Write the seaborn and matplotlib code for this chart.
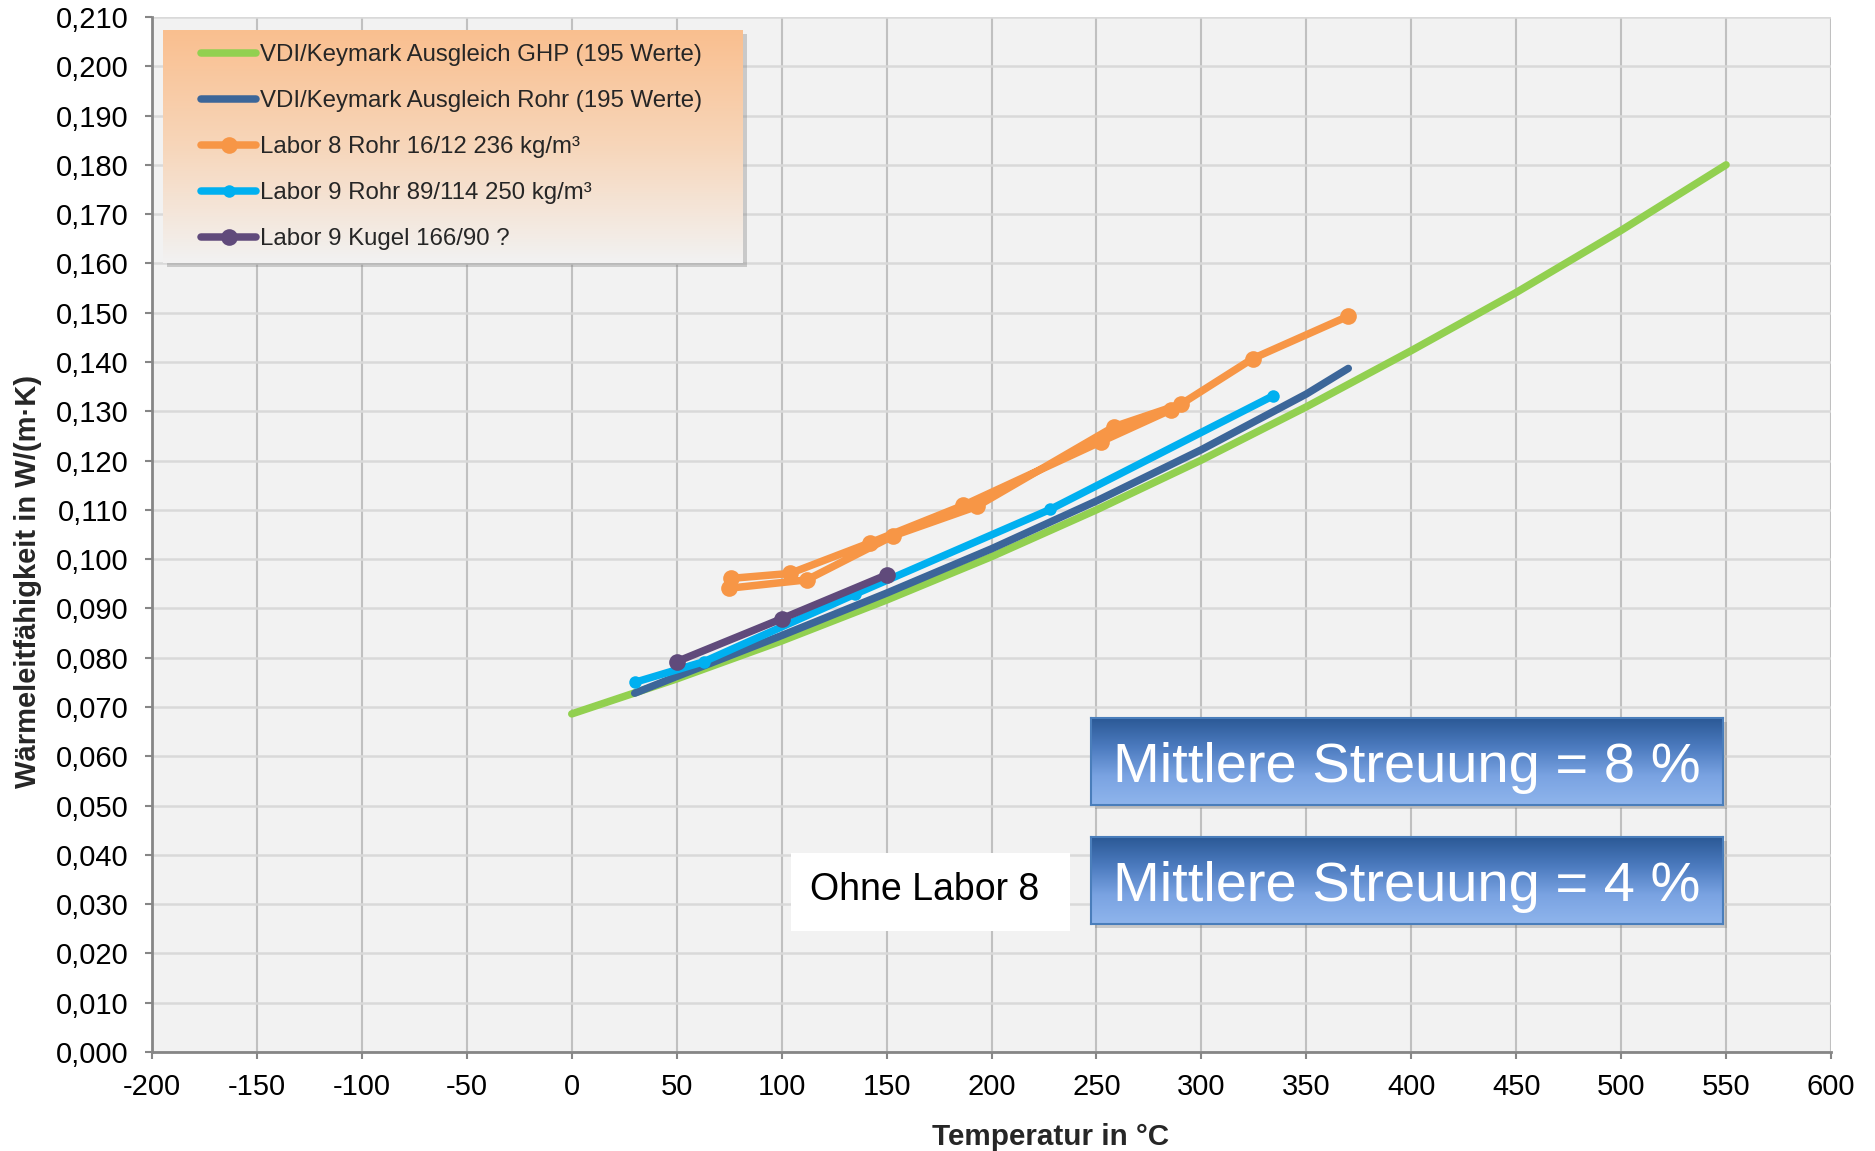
import numpy as np
import pandas as pd
import matplotlib
matplotlib.use("Agg")
import matplotlib.pyplot as plt
import seaborn as sns
from matplotlib.colors import LinearSegmentedColormap
from matplotlib.patches import Rectangle
from matplotlib.ticker import FuncFormatter

# ---------------- data ----------------
ghp_T = [0, 50, 100, 150, 200, 250, 300, 350, 400, 450, 500, 550]
ghp_L = [0.0686, 0.0757, 0.0834, 0.0917, 0.1005, 0.1100, 0.1201, 0.1309,
         0.1423, 0.1541, 0.1667, 0.1800]

rohr_T = [30, 50, 100, 150, 200, 250, 300, 350, 370]
rohr_L = [0.0728, 0.0762, 0.0845, 0.0931, 0.1021, 0.1118, 0.1222, 0.1335, 0.1387]

lab8_T = [370, 324.5, 290.5, 258.5, 193, 153, 112, 75, 76, 104, 142, 186.5, 252, 285.5]
lab8_L = [0.1493, 0.1407, 0.1315, 0.1269, 0.1107, 0.1047, 0.0958, 0.0941,
          0.0961, 0.0971, 0.1033, 0.1109, 0.1238, 0.1303]

lab9r_T = [30, 63, 135, 228, 334]
lab9r_L = [0.0750, 0.0792, 0.0929, 0.1101, 0.1331]

lab9k_T = [50, 100, 150]
lab9k_L = [0.0792, 0.0879, 0.0968]

labels = ["VDI/Keymark Ausgleich GHP (195 Werte)",
          "VDI/Keymark Ausgleich Rohr (195 Werte)",
          "Labor 8 Rohr 16/12 236 kg/m³",
          "Labor 9 Rohr 89/114 250 kg/m³",
          "Labor 9 Kugel 166/90 ?"]
colors = ["#92d050", "#3c6699", "#f79646", "#00b0f0", "#604a7b"]

x_ticks = list(range(-200, 601, 50))
y_ticks = [round(0.01 * i, 3) for i in range(0, 22)]

# ---------------- style ----------------
sns.set_theme(style="ticks")
plt.rcParams["font.family"] = ["Liberation Sans", "DejaVu Sans"]
plt.rcParams["axes.unicode_minus"] = False

W, H = 1875, 1151
fig = plt.figure(figsize=(W / 100, H / 100), dpi=100)
fig.patch.set_facecolor("white")

def fx(px):
    return px / W

def fy(py):
    return 1 - py / H

L, R, T, B = 152, 1831, 17, 1052
ax = fig.add_axes([fx(L), fy(B), fx(R - L), (B - T) / H])
ax.set_facecolor("#f2f2f2")

lw = 5.4
sns.lineplot(x=ghp_T, y=ghp_L, ax=ax, color=colors[0], linewidth=lw,
             sort=False, label=labels[0], solid_capstyle="round")
sns.lineplot(x=rohr_T, y=rohr_L, ax=ax, color=colors[1], linewidth=lw,
             sort=False, label=labels[1], solid_capstyle="round")
sns.lineplot(x=lab8_T, y=lab8_L, ax=ax, color=colors[2], linewidth=lw,
             sort=False, label=labels[2], marker="o", markersize=12,
             markeredgewidth=0, solid_joinstyle="round")
sns.lineplot(x=lab9r_T, y=lab9r_L, ax=ax, color=colors[3], linewidth=lw,
             sort=False, label=labels[3], marker="o", markersize=9,
             markeredgewidth=0)
sns.lineplot(x=lab9k_T, y=lab9k_L, ax=ax, color=colors[4], linewidth=lw,
             sort=False, label=labels[4], marker="o", markersize=12,
             markeredgewidth=0)

handles, labs = ax.get_legend_handles_labels()
ax.get_legend().remove()

ax.set_xlim(-200, 600)
ax.set_ylim(0, 0.21)
ax.set_xticks(x_ticks)
ax.set_yticks(y_ticks)
ax.xaxis.set_major_formatter(FuncFormatter(lambda v, p: f"{int(round(v))}"))
ax.yaxis.set_major_formatter(FuncFormatter(lambda v, p: f"{v:.3f}".replace(".", ",")))

ax.set_axisbelow(True)
ax.xaxis.grid(True, color="#c0c0c0", linewidth=1.5)
ax.yaxis.grid(True, color="#d9d9d9", linewidth=1.8)
for s in ["top", "right"]:
    ax.spines[s].set_visible(False)
for s in ["left", "bottom"]:
    ax.spines[s].set_color("#868686")
    ax.spines[s].set_linewidth(2)
ax.tick_params(axis="both", direction="out", length=5, width=1.5,
               color="#868686", labelsize=21, labelcolor="black")
ax.tick_params(axis="y", pad=12)
ax.tick_params(axis="x", pad=10)

ax.set_xlabel("Temperatur in °C", fontsize=21.3, fontweight="bold")
ax.set_ylabel("Wärmeleitfähigkeit in W/(m·K)", fontsize=21, fontweight="bold")
ax.xaxis.set_label_coords(0.535, -0.069)
ax.yaxis.set_label_coords(-0.0655, 0.455)

# ---------------- legend with gradient background ----------------
def gradient_axes(x0, y0, x1, y1, cols, z, edge=None):
    gax = fig.add_axes([fx(x0), fy(y1), fx(x1 - x0), (y1 - y0) / H], zorder=z)
    cmap = LinearSegmentedColormap.from_list("g", cols)
    grad = np.linspace(0, 1, 256).reshape(-1, 1)
    gax.imshow(grad, cmap=cmap, aspect="auto", extent=[0, 1, 0, 1], origin="upper")
    gax.set_xlim(0, 1)
    gax.set_ylim(0, 1)
    gax.set_xticks([])
    gax.set_yticks([])
    for s in gax.spines.values():
        if edge is None:
            s.set_visible(False)
        else:
            s.set_color(edge)
            s.set_linewidth(1.5)
    return gax

def shadow(x0, y0, x1, y1, z):
    fig.add_artist(Rectangle((fx(x0 + 4), fy(y1 + 4)), fx(x1 - x0), (y1 - y0) / H,
                             transform=fig.transFigure, facecolor="#7f7f7f",
                             alpha=0.35, edgecolor="none", zorder=z))

shadow(163, 30, 743, 263, 1.5)
gradient_axes(163, 30, 743, 263, ["#fabf8f", "#f7d6ba", "#f2f2f2"], 2)

fig.legend(handles, labs, loc="upper left", bbox_to_anchor=(fx(201), fy(44)),
           frameon=False, fontsize=17.3, handlelength=2.3, handletextpad=0.15,
           labelspacing=1.0, borderpad=0, borderaxespad=0)

# ---------------- text boxes ----------------
ob = fig.add_axes([fx(791), fy(931), fx(1070 - 791), (931 - 853) / H], zorder=2)
ob.set_facecolor("white")
ob.set_xticks([])
ob.set_yticks([])
for s in ob.spines.values():
    s.set_visible(False)
ob.text(0.478, 0.397, "Ohne Labor 8", ha="center", va="baseline", fontsize=27,
        color="black", transform=ob.transAxes)

for (y0, y1, txt, base) in [(718, 805, "Mittlere Streuung = 8 %", 0.268),
                            (837, 924, "Mittlere Streuung = 4 %", 0.264)]:
    shadow(1091, y0, 1723, y1, 1.5)
    bx = gradient_axes(1091, y0, 1723, y1,
                       ["#2b5996", "#4c7bbf", "#7aa3e2", "#8fb5ec"], 2,
                       edge="#4a7ebb")
    bx.text(0.5, base, txt, ha="center", va="baseline", fontsize=40.4,
            color="white", transform=bx.transAxes)

fig.savefig("out.png", dpi=100)
